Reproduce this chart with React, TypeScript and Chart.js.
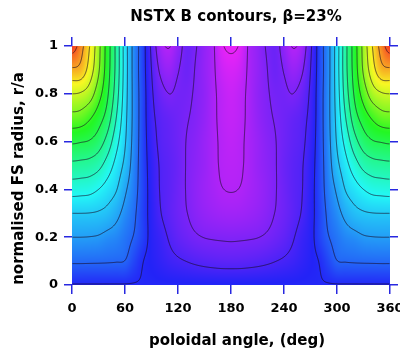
import { useEffect, useRef } from "react";
import { Chart, registerables } from "chart.js";
Chart.register(...registerables);

// poloidal angle nodes (deg) and normalised radius nodes (r/a)
const THETA = [0, 10, 20, 30, 40, 50, 60, 70, 80, 90, 100, 110, 120, 130, 140, 150, 160, 170, 180, 190, 200, 210, 220, 230, 240, 250, 260, 270, 280, 290, 300, 310, 320, 330, 340, 350, 360];
const RADIUS = [0, 0.1, 0.2, 0.3, 0.4, 0.5, 0.6, 0.7, 0.8, 0.9, 1];

// |B| in contour-level units, one row per radius
const B_R00 = [3.95, 3.95, 3.95, 3.95, 3.95, 3.95, 3.95, 3.95, 3.95, 3.95, 3.95, 3.95, 3.95, 3.95, 3.95, 3.95, 3.95, 3.95, 3.95, 3.95, 3.95, 3.95, 3.95, 3.95, 3.95, 3.95, 3.95, 3.95, 3.95, 3.95, 3.95, 3.95, 3.95, 3.95, 3.95, 3.95, 3.95];
const B_R01 = [5.11, 5.11, 5.1, 5.09, 5.07, 5.04, 4.98, 4.5, 4.03, 3.8, 3.55, 3.3, 3.12, 2.98, 2.85, 2.75, 2.68, 2.63, 2.62, 2.63, 2.68, 2.75, 2.85, 2.98, 3.12, 3.3, 3.55, 3.8, 4.03, 4.5, 4.98, 5.04, 5.07, 5.09, 5.1, 5.11, 5.11];
const B_R02 = [6.0, 6.0, 5.98, 5.92, 5.74, 5.6, 5.3, 4.95, 4.4, 3.75, 3.35, 2.92, 2.55, 2.3, 2.1, 1.98, 1.93, 1.9, 1.88, 1.9, 1.93, 1.98, 2.1, 2.3, 2.55, 2.92, 3.35, 3.75, 4.4, 4.95, 5.3, 5.6, 5.74, 5.92, 5.98, 6.0, 6.0];
const B_R03 = [7.0, 7.0, 6.98, 6.9, 6.7, 6.28, 5.7, 5.17, 4.42, 3.69, 3.05, 2.65, 2.3, 2.02, 1.75, 1.55, 1.42, 1.33, 1.3, 1.33, 1.42, 1.55, 1.75, 2.02, 2.3, 2.65, 3.05, 3.69, 4.42, 5.17, 5.7, 6.28, 6.7, 6.9, 6.98, 7.0, 7.0];
const B_R04 = [8.43, 8.38, 8.3, 8.0, 7.57, 7.07, 6.17, 5.38, 4.5, 3.64, 2.95, 2.65, 2.3, 1.95, 1.65, 1.4, 1.2, 1.02, 0.97, 1.02, 1.2, 1.4, 1.65, 1.95, 2.3, 2.65, 2.95, 3.64, 4.5, 5.38, 6.17, 7.07, 7.57, 8.0, 8.3, 8.38, 8.43];
const B_R05 = [9.75, 9.7, 9.6, 9.28, 8.55, 7.67, 6.73, 5.54, 4.5, 3.58, 2.92, 2.65, 2.35, 1.95, 1.7, 1.45, 1.15, 0.92, 0.85, 0.92, 1.15, 1.45, 1.7, 1.95, 2.35, 2.65, 2.92, 3.58, 4.5, 5.54, 6.73, 7.67, 8.55, 9.28, 9.6, 9.7, 9.75];
const B_R06 = [11.14, 11.05, 10.92, 10.5, 9.63, 8.36, 7.1, 5.66, 4.5, 3.44, 2.8, 2.55, 2.28, 1.97, 1.75, 1.45, 1.15, 0.88, 0.75, 0.88, 1.15, 1.45, 1.75, 1.97, 2.28, 2.55, 2.8, 3.44, 4.5, 5.66, 7.1, 8.36, 9.63, 10.5, 10.92, 11.05, 11.14];
const B_R07 = [12.67, 12.57, 12.12, 11.45, 10.56, 9.02, 7.32, 5.72, 4.5, 3.29, 2.7, 2.45, 2.25, 2.05, 1.85, 1.55, 1.15, 0.8, 0.65, 0.8, 1.15, 1.55, 1.85, 2.05, 2.25, 2.45, 2.7, 3.29, 4.5, 5.72, 7.32, 9.02, 10.56, 11.45, 12.12, 12.57, 12.67];
const B_R08 = [14.0, 13.9, 13.47, 12.42, 11.16, 9.5, 7.48, 5.71, 4.5, 3.17, 2.35, 2.0, 2.15, 2.15, 1.9, 1.6, 1.15, 0.75, 0.55, 0.75, 1.15, 1.6, 1.9, 2.15, 2.15, 2.0, 2.35, 3.17, 4.5, 5.71, 7.48, 9.5, 11.16, 12.42, 13.47, 13.9, 14.0];
const B_R09 = [15.83, 15.65, 14.55, 13.14, 11.47, 9.73, 7.56, 5.67, 4.45, 3.0, 1.85, 1.5, 1.95, 2.3, 1.95, 1.55, 1.12, 0.5, 0.3, 0.5, 1.12, 1.55, 1.95, 2.3, 1.95, 1.5, 1.85, 3.0, 4.45, 5.67, 7.56, 9.73, 11.47, 13.14, 14.55, 15.65, 15.83];
const B_R10 = [17.5, 16.4, 15.0, 13.33, 11.55, 9.75, 7.55, 5.67, 4.45, 2.8, 1.33, 0.95, 1.6, 2.3, 2.05, 1.57, 1.1, 0.1, -0.15, 0.1, 1.1, 1.57, 2.05, 2.3, 1.6, 0.95, 1.33, 2.8, 4.45, 5.67, 7.55, 9.75, 11.55, 13.33, 15.0, 16.4, 17.5];
const B_ROWS = [B_R00, B_R01, B_R02, B_R03, B_R04, B_R05, B_R06, B_R07, B_R08, B_R09, B_R10];

const LEVELS = [0, 1, 2, 3, 4, 5, 6, 7, 8, 9, 10, 11, 12, 13, 14, 15, 16, 17];
const X_TICKS = [0, 60, 120, 180, 240, 300, 360];
const Y_TICKS = [0, 0.2, 0.4, 0.6, 0.8, 1];

const TITLE = "NSTX B contours, β=23%";
const X_TITLE = "poloidal angle, (deg)";
const Y_TITLE = "normalised FS radius, r/a";

const FONT = '"DejaVu Sans", "Liberation Sans", sans-serif';
const TICK_COLOR = "#2828e0";
// colour map: value -> hue
const HUE_STOPS: [number, number][] = [[-0.5, 300], [0, 295], [2, 265], [4, 238], [6, 205], [8, 180], [10, 150], [12, 115], [13.8, 75], [15, 55], [16, 36], [17, 16], [17.5, 8], [18, 2]];

function hueFor(v: number): number {
  if (v <= HUE_STOPS[0][0]) return HUE_STOPS[0][1];
  for (let k = 1; k < HUE_STOPS.length; k++) {
    if (v <= HUE_STOPS[k][0]) {
      const [v0, h0] = HUE_STOPS[k - 1];
      const [v1, h1] = HUE_STOPS[k];
      return h0 + ((v - v0) / (v1 - v0)) * (h1 - h0);
    }
  }
  return HUE_STOPS[HUE_STOPS.length - 1][1];
}

function hsv(h: number, s: number, v: number): [number, number, number] {
  const c = v * s;
  const hp = (((h % 360) + 360) % 360) / 60;
  const x = c * (1 - Math.abs((hp % 2) - 1));
  let r = 0, g = 0, b = 0;
  if (hp < 1) { r = c; g = x; } else if (hp < 2) { r = x; g = c; } else if (hp < 3) { g = c; b = x; }
  else if (hp < 4) { g = x; b = c; } else if (hp < 5) { r = x; b = c; } else { r = c; b = x; }
  const m = v - c;
  return [(r + m) * 255, (g + m) * 255, (b + m) * 255];
}

function gridVal(i: number, j: number): number {
  const n = THETA.length;
  if (i < 0) i = -i;
  if (i > n - 1) i = 2 * (n - 1) - i;
  const m = RADIUS.length;
  if (j < 0) return 2 * B_ROWS[0][i] - B_ROWS[1][i];
  if (j > m - 1) return 2 * B_ROWS[m - 1][i] - B_ROWS[m - 2][i];
  return B_ROWS[j][i];
}

function cr(p0: number, p1: number, p2: number, p3: number, t: number): number {
  return 0.5 * (2 * p1 + (-p0 + p2) * t + (2 * p0 - 5 * p1 + 4 * p2 - p3) * t * t + (-p0 + 3 * p1 - 3 * p2 + p3) * t * t * t);
}

function sampleB(th: number, r: number): number {
  const dth = THETA[1] - THETA[0];
  const dr = RADIUS[1] - RADIUS[0];
  const fx = (th - THETA[0]) / dth;
  let i = Math.floor(fx);
  if (i > THETA.length - 2) i = THETA.length - 2;
  if (i < 0) i = 0;
  const tx = fx - i;
  const fy = (r - RADIUS[0]) / dr;
  let j = Math.floor(fy);
  if (j > RADIUS.length - 2) j = RADIUS.length - 2;
  if (j < 0) j = 0;
  const ty = fy - j;
  const cols: number[] = [];
  for (let b = -1; b <= 2; b++) {
    cols.push(cr(gridVal(i - 1, j + b), gridVal(i, j + b), gridVal(i + 1, j + b), gridVal(i + 2, j + b), tx));
  }
  return cr(cols[0], cols[1], cols[2], cols[3], ty);
}

const fieldPlugin = {
  id: "bfield",
  beforeDatasetsDraw(chart: any) {
    const { ctx, chartArea: ca, scales } = chart;
    const xs = scales.x, ys = scales.y;
    const W = Math.round(ca.right - ca.left);
    const H = Math.round(ca.bottom - ca.top);
    const thv = new Float64Array(W);
    const rv = new Float64Array(H);
    for (let i = 0; i < W; i++) thv[i] = xs.getValueForPixel(ca.left + i + 0.5);
    for (let j = 0; j < H; j++) rv[j] = ys.getValueForPixel(ca.top + j + 0.5);
    const F = new Float32Array(W * H);
    const img = ctx.createImageData(W, H);
    for (let j = 0; j < H; j++) {
      for (let i = 0; i < W; i++) {
        const v = sampleB(thv[i], rv[j]);
        F[j * W + i] = v;
        const [R, G, B] = hsv(hueFor(v), 0.86, 0.97);
        const o = (j * W + i) * 4;
        img.data[o] = R; img.data[o + 1] = G; img.data[o + 2] = B; img.data[o + 3] = 255;
      }
    }
    const off = document.createElement("canvas");
    off.width = W; off.height = H;
    (off.getContext("2d") as CanvasRenderingContext2D).putImageData(img, 0, 0);
    ctx.save();
    ctx.drawImage(off, ca.left, ca.top);

    const px = (fi: number) => {
      const i0 = Math.floor(fi), t = fi - i0;
      const th = i0 + 1 < W ? thv[i0] + t * (thv[i0 + 1] - thv[i0]) : thv[i0];
      return xs.getPixelForValue(th);
    };
    const py = (fj: number) => {
      const j0 = Math.floor(fj), t = fj - j0;
      const r = j0 + 1 < H ? rv[j0] + t * (rv[j0 + 1] - rv[j0]) : rv[j0];
      return ys.getPixelForValue(r);
    };
    ctx.beginPath();
    ctx.rect(ca.left, ca.top, ca.right - ca.left, ca.bottom - ca.top);
    ctx.clip();
    ctx.beginPath();
    for (const L of LEVELS) {
      for (let j = 0; j < H - 1; j++) {
        for (let i = 0; i < W - 1; i++) {
          const a = F[j * W + i], b = F[j * W + i + 1], c = F[(j + 1) * W + i + 1], d = F[(j + 1) * W + i];
          const idx = (a > L ? 8 : 0) | (b > L ? 4 : 0) | (c > L ? 2 : 0) | (d > L ? 1 : 0);
          if (idx === 0 || idx === 15) continue;
          const top = () => [px(i + (L - a) / (b - a)), py(j)];
          const right = () => [px(i + 1), py(j + (L - b) / (c - b))];
          const bottom = () => [px(i + (L - d) / (c - d)), py(j + 1)];
          const left = () => [px(i), py(j + (L - a) / (d - a))];
          const seg = (p: number[], q: number[]) => { ctx.moveTo(p[0], p[1]); ctx.lineTo(q[0], q[1]); };
          const center = (a + b + c + d) / 4;
          switch (idx) {
            case 1: case 14: seg(left(), bottom()); break;
            case 2: case 13: seg(bottom(), right()); break;
            case 3: case 12: seg(left(), right()); break;
            case 4: case 11: seg(top(), right()); break;
            case 6: case 9: seg(top(), bottom()); break;
            case 7: case 8: seg(left(), top()); break;
            case 5:
              if (center > L) { seg(left(), top()); seg(bottom(), right()); }
              else { seg(top(), right()); seg(left(), bottom()); }
              break;
            case 10:
              if (center > L) { seg(top(), right()); seg(left(), bottom()); }
              else { seg(left(), top()); seg(bottom(), right()); }
              break;
          }
        }
      }
    }
    ctx.strokeStyle = "rgba(25,10,35,0.85)";
    ctx.lineWidth = 0.8;
    ctx.stroke();
    ctx.restore();
  },
  afterDraw(chart: any) {
    const { ctx, chartArea: ca } = chart;
    const cx = (ca.left + ca.right) / 2;
    ctx.save();
    ctx.fillStyle = "#000";
    ctx.font = `bold 15px ${FONT}`;
    ctx.textAlign = "center";
    ctx.textBaseline = "alphabetic";
    ctx.fillText(TITLE, cx + 5, ca.top - 25);
    ctx.fillText(X_TITLE, cx + 6, ca.bottom + 60);
    ctx.translate(ca.left - 49, (ca.top + ca.bottom) / 2 + 13);
    ctx.rotate(-Math.PI / 2);
    ctx.fillText(Y_TITLE, 0, 0);
    ctx.restore();
  },
};

export default function App() {
  const ref = useRef<HTMLCanvasElement | null>(null);
  useEffect(() => {
    document.body.style.margin = "0";
    if (!ref.current) return;
    const tickFont = { family: FONT, weight: "bold" as const, size: 13 };
    const chart = new Chart(ref.current, {
      type: "scatter",
      data: { datasets: [{ data: THETA.map((t) => ({ x: t, y: 0 })), pointRadius: 0, showLine: false }] },
      options: {
        responsive: false,
        maintainAspectRatio: false,
        devicePixelRatio: 1,
        animation: false,
        events: [],
        layout: { padding: 0, autoPadding: false },
        plugins: { legend: { display: false }, tooltip: { enabled: false }, title: { display: false } },
        scales: {
          x: {
            type: "linear", position: "bottom", min: 0, max: 360,
            afterBuildTicks: (s: any) => { s.ticks = X_TICKS.map((v) => ({ value: v })); },
            ticks: { font: tickFont, color: "#000", padding: 7, maxRotation: 0, autoSkip: false, callback: (v: any) => String(v) },
            grid: { drawOnChartArea: false, drawTicks: true, tickLength: 9, color: TICK_COLOR, lineWidth: 1.5 },
            border: { display: false },
            afterFit: (s: any) => { s.height = 71; s.paddingLeft = 0; s.paddingRight = 0; },
          },
          x2: {
            type: "linear", position: "top", min: 0, max: 360,
            afterBuildTicks: (s: any) => { s.ticks = X_TICKS.map((v) => ({ value: v })); },
            ticks: { display: false },
            grid: { drawOnChartArea: false, drawTicks: true, tickLength: 9, color: TICK_COLOR, lineWidth: 1.5 },
            border: { display: false },
            afterFit: (s: any) => { s.height = 46; s.paddingLeft = 0; s.paddingRight = 0; },
          },
          y: {
            type: "linear", position: "left", min: 0, max: 1,
            afterBuildTicks: (s: any) => { s.ticks = Y_TICKS.map((v) => ({ value: v })); },
            ticks: { font: tickFont, color: "#000", padding: 6, autoSkip: false, callback: (v: any) => String(v) },
            grid: { drawOnChartArea: false, drawTicks: true, tickLength: 8, color: TICK_COLOR, lineWidth: 1.5 },
            border: { display: false },
            afterFit: (s: any) => { s.width = 72; s.paddingTop = 0; s.paddingBottom = 0; },
          },
          y2: {
            type: "linear", position: "right", min: 0, max: 1,
            afterBuildTicks: (s: any) => { s.ticks = Y_TICKS.map((v) => ({ value: v })); },
            ticks: { display: false },
            grid: { drawOnChartArea: false, drawTicks: true, tickLength: 8, color: TICK_COLOR, lineWidth: 1.5 },
            border: { display: false },
            afterFit: (s: any) => { s.width = 10; s.paddingTop = 0; s.paddingBottom = 0; },
          },
        },
      },
      plugins: [fieldPlugin],
    } as any);
    return () => chart.destroy();
  }, []);
  return (
    <div style={{ position: "fixed", left: 0, top: 0, width: 400, height: 356, background: "#fff" }}>
      <canvas ref={ref} width={400} height={356} style={{ display: "block" }} />
    </div>
  );
}
